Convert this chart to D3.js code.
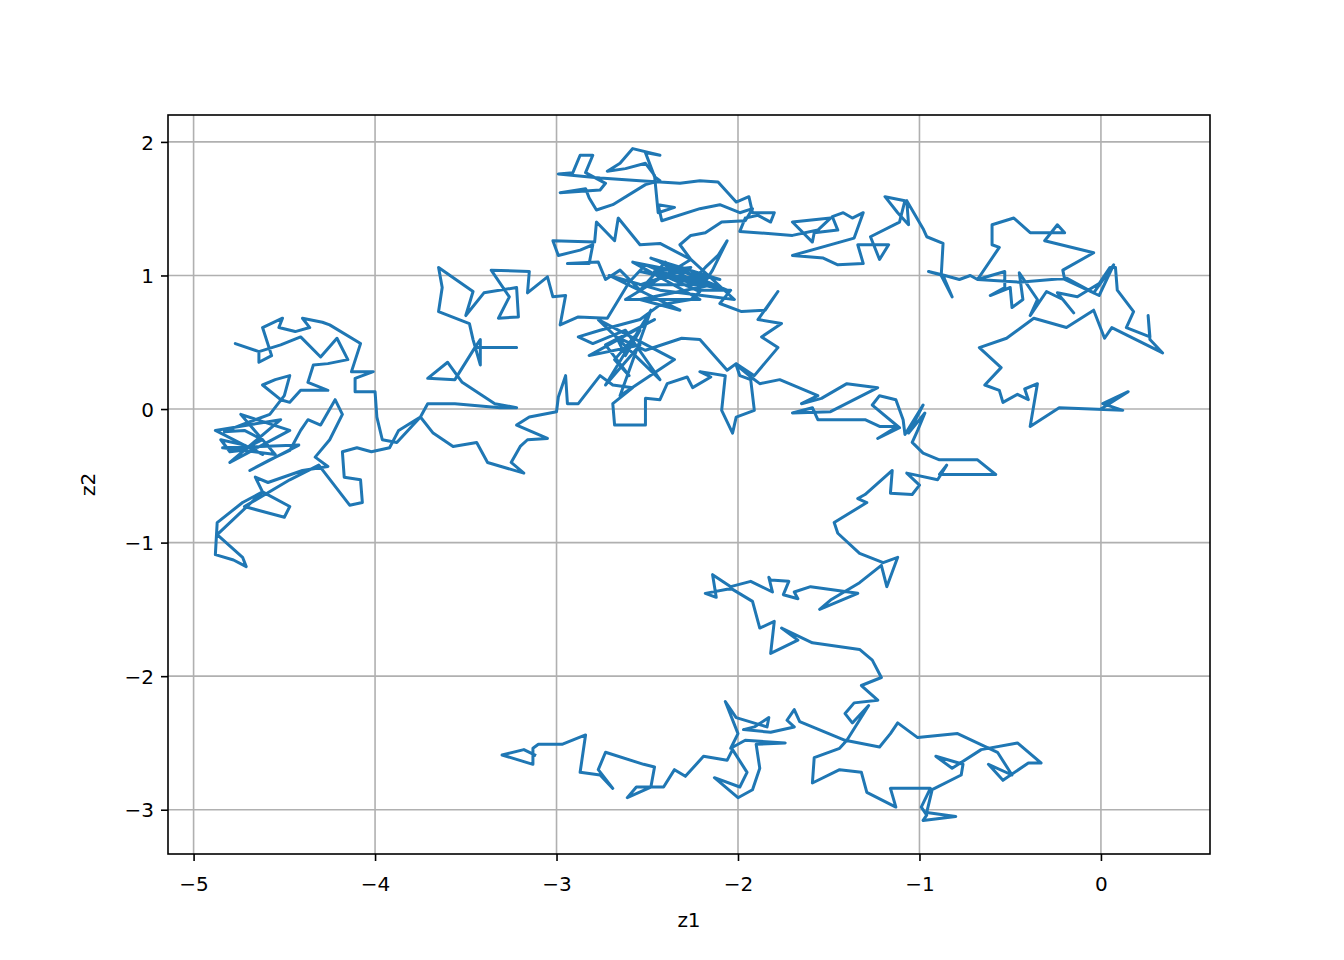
<!DOCTYPE html>
<html>
<head>
<meta charset="utf-8">
<script src="https://cdn.jsdelivr.net/npm/d3@7"></script>
<style>
  body { margin: 0; background: #fff; }
  svg text { font-family: "DejaVu Sans", sans-serif; font-size: 20px; fill: #000; }
</style>
</head>
<body>
<div id="chart"></div>
<script>
// random walk path in order (start at the origin)
var z1 = [
  0.00, 0.15, 0.01, 0.12, -0.23, -0.39, -0.35, -0.42, -0.40, -0.46, -0.54, -0.56, -0.64, -0.55, -0.67, -0.52,
  -0.37, -0.19, -0.04, 0.02, 0.06, 0.34, 0.27, 0.26, 0.27, 0.14, 0.18, 0.09, 0.08, 0.05, -0.01, -0.13,
  -0.24, -0.15, -0.21, -0.30, -0.39, -0.35, -0.45, -0.43, -0.49, -0.50, -0.61, -0.53, -0.53, -0.68, -0.56, -0.60,
  -0.60, -0.48, -0.39, -0.24, -0.20, -0.24, -0.31, -0.04, -0.21, -0.20, -0.01, 0.07, -0.04, -0.19, -0.45, -0.68,
  -0.72, -0.78, -0.86, -0.95, -0.87, -0.82, -0.88, -0.87, -0.96, -0.98,
  -1.07, -1.06, -1.12, -1.19, -1.08, -1.11, -1.27, -1.22, -1.17, -1.34, -1.31, -1.45, -1.53, -1.70, -1.36, -1.31,
  -1.37, -1.42, -1.48, -1.45, -1.58, -1.59, -1.70, -1.49, -1.56, -1.70, -1.99, -1.96, -1.89, -1.82, -1.80, -1.92,
  -1.94, -2.01,
  -2.11, -2.21, -2.32, -2.43, -2.54, -2.76, -2.99, -2.91, -2.87, -2.80, -2.84, -2.73, -2.76, -2.98, -2.84, -2.82,
  -2.78, -2.69, -2.51, -2.43, -2.46, -2.51, -2.43, -2.58, -2.65, -2.72, -2.62, -2.51, -2.46, -2.44, -2.35, -2.44,
  -2.42, -2.21, -2.10, -1.99, -1.92, -1.96, -2.09, -2.18, -2.26, -2.32, -2.26, -2.43, -2.54, -2.66, -2.68, -2.78,
  -2.79, -3.02, -2.99, -2.87, -2.80, -2.82, -2.94, -2.77, -2.73, -2.65, -2.54, -2.40, -2.26, -2.18, -2.11, -2.06,
  -2.14, -2.21, -2.04, -2.10, -1.98, -1.85, -1.78, -1.89, -1.76, -1.87, -1.78, -1.91, -2.01, -2.06, -2.21, -2.31,
  -2.51, -2.67, -2.62, -2.54, -2.68, -2.60, -2.73,
  -2.46, -2.82, -2.54, -2.73, -2.48, -2.65, -2.35, -2.77, -2.43, -2.62,
  -2.80, -2.88, -2.76, -2.54, -2.43, -2.26, -2.21, -2.46, -2.26,
  -2.54, -2.21, -2.43, -2.18,
  -2.54, -2.06, -2.48, -2.10, -2.58, -2.21, -2.62, -2.26, -2.02, -2.43, -2.71, -2.32, -2.54, -2.14,
  -2.37, -2.51, -2.60, -2.72, -2.88, -2.98, -2.95, -3.02,
  -3.05, -3.16, -3.15, -3.36, -3.26, -3.32, -3.21, -3.22, -3.40, -3.50, -3.46, -3.65, -3.63, -3.65, -3.48, -3.46,
  -3.42, -3.42, -3.45, -3.22, -3.45, -3.56, -3.71, -3.60, -3.52, -3.34, -3.22, -3.31, -3.56, -3.71, -3.75, -3.88,
  -3.96, -3.99,
  -4.00, -4.11, -4.11, -4.01, -4.13, -4.08, -4.25, -4.29, -4.40, -4.36, -4.44, -4.53, -4.51, -4.62, -4.57, -4.64,
  -4.64, -4.77, -4.64, -4.52, -4.41, -4.30, -4.21, -4.15, -4.26, -4.34, -4.37, -4.26, -4.41, -4.47, -4.52, -4.62,
  -4.55, -4.47, -4.50, -4.58, -4.66, -4.74, -4.83, -4.72, -4.62, -4.74, -4.80, -4.85, -4.72, -4.62,
  -4.88, -4.52, -4.80, -4.47, -4.74, -4.55, -4.84, -4.42,
  -4.69, -4.58,
  -4.47, -4.41, -4.37, -4.30, -4.22, -4.18, -4.25, -4.33, -4.26, -4.40, -4.59, -4.66, -4.62, -4.73, -4.87, -4.88,
  -4.78, -4.71, -4.73, -4.87, -4.62, -4.47, -4.50, -4.72, -4.47, -4.31, -4.14, -4.07, -4.08, -4.17, -4.18, -4.10,
  -4.02, -3.92, -3.87, -3.75, -3.68, -3.57, -3.44, -3.38, -3.18, -3.25, -3.20, -3.16, -3.05, -3.22, -3.15, -3.00,
  -2.99, -2.95, -2.94, -2.88, -2.76, -2.69, -2.58, -2.69, -2.68, -2.51, -2.51, -2.43, -2.39, -2.28, -2.25, -2.15,
  -2.21, -2.07, -2.09, -2.03, -2.01, -1.91, -1.93, -1.99, -2.01, -1.92, -1.88,
  -1.77, -1.56, -1.65, -1.54, -1.40, -1.23, -1.49, -1.70, -1.59, -1.56, -1.30, -1.22, -1.12, -1.23, -1.11, -1.26,
  -1.22, -1.13, -1.09, -1.08, -0.98, -1.06, -0.97, -1.01, -1.04, -0.98, -0.89, -0.68, -0.58, -0.89, -0.85, -0.90,
  -1.07, -1.00, -1.04, -1.16, -1.15, -1.30, -1.34, -1.29, -1.47, -1.45, -1.33, -1.20, -1.12, -1.18, -1.21, -1.33,
  -1.49, -1.55, -1.34, -1.60, -1.69, -1.67, -1.75, -1.72, -1.82, -1.83, -1.81, -1.93, -2.04, -2.14, -2.12, -2.18,
  -2.06, -2.03, -1.92, -1.88, -1.80, -1.82, -1.67, -1.76, -1.59, -1.33, -1.26, -1.21, -1.32, -1.23, -1.36, -1.41,
  -1.37, -1.28, -1.40, -1.44, -1.58, -1.59, -1.44, -1.32, -1.29, -1.13, -1.16, -0.94, -0.99, -0.96, -0.98, -0.80,
  -0.96, -0.93, -0.77, -0.76, -0.91, -0.82, -0.66, -0.46, -0.33, -0.40, -0.54, -0.62, -0.49, -0.57, -0.79, -1.01,
  -1.12, -1.16, -1.22, -1.41, -1.66, -1.69, -1.73, -1.69, -1.82, -1.97, -1.91, -1.83, -1.84, -2.01, -2.07, -2.00,
  -2.04, -1.96, -1.74, -1.90, -1.88, -1.92, -2.00, -2.13, -1.99, -1.95, -2.03, -2.06, -2.19, -2.29, -2.35, -2.41,
  -2.56, -2.61, -2.48, -2.46, -2.52, -2.73, -2.77, -2.69, -2.76, -2.87, -2.84, -2.97, -3.10, -3.13, -3.13, -3.30,
  -3.18, -3.12
];
var z2 = [
  0.00, 0.13, 0.04, -0.01, 0.01, -0.13, 0.19, 0.15, 0.07, 0.11, 0.05, 0.14, 0.18, 0.31, 0.46, 0.53,
  0.68, 0.61, 0.74, 0.53, 0.61, 0.42, 0.52, 0.70, 0.54, 0.61, 0.73, 0.89, 1.06, 1.06, 0.94, 0.84,
  0.87, 0.72, 0.82, 0.88, 0.70, 0.82, 1.02, 0.82, 0.76, 0.91, 0.85, 0.91, 1.03, 0.97, 1.21, 1.23,
  1.38, 1.43, 1.32, 1.32, 1.32, 1.38, 1.26, 1.17, 1.04, 0.97, 0.85, 1.08, 0.87, 0.98, 0.95, 0.97,
  1.00, 0.97, 1.00, 1.03, 1.00, 0.84, 1.00, 1.24, 1.29, 1.35,
  1.56, 1.38, 1.47, 1.59, 1.56, 1.40, 1.29, 1.12, 1.23, 1.23, 1.09, 1.08, 1.13, 1.15, 1.28, 1.47,
  1.43, 1.47, 1.44, 1.34, 1.32, 1.25, 1.40, 1.43, 1.34, 1.30, 1.33, 1.43, 1.45, 1.40, 1.47, 1.47,
  1.59, 1.55,
  1.70, 1.71, 1.69, 1.70, 1.71, 1.73, 1.76, 1.77, 1.90, 1.90, 1.77, 1.69, 1.64, 1.62, 1.65, 1.58,
  1.49, 1.53, 1.68, 1.71, 1.74, 1.92, 1.90, 1.95, 1.84, 1.78, 1.80, 1.84, 1.75, 1.47, 1.51, 1.53,
  1.41, 1.50, 1.53, 1.47, 1.50, 1.41, 1.40, 1.32, 1.30, 1.23, 1.12, 1.24, 1.23, 1.43, 1.26, 1.40,
  1.25, 1.26, 1.15, 1.19, 1.23, 1.09, 1.09, 1.10, 0.97, 1.04, 0.89, 1.10, 0.95, 1.06, 1.15, 1.26,
  1.04, 0.89, 0.89, 0.79, 0.73, 0.74, 0.88, 0.67, 0.64, 0.54, 0.46, 0.25, 0.34, 0.29, 0.52, 0.53,
  0.44, 0.54, 0.40, 0.59, 0.37, 0.25, 0.48,
  0.67, 0.40, 0.48, 0.18, 0.74, 0.10, 0.37, 0.67, 0.22, 0.59,
  0.49, 0.54, 0.59, 0.67, 0.78, 0.82, 0.88, 1.03, 1.06,
  0.93, 0.93, 1.10, 0.97,
  1.03, 0.89, 1.13, 0.97, 1.10, 0.82, 0.82, 1.12, 0.82, 0.89, 1.00, 0.74, 0.82, 0.93,
  1.00, 1.08, 0.95, 0.68, 0.69, 0.63, 0.85, 0.84,
  0.99, 0.87, 1.03, 1.04, 0.84, 0.68, 0.69, 0.91, 0.87, 0.70, 0.88, 1.06, 0.91, 0.73, 0.64, 0.52,
  0.33, 0.52, 0.46, 0.46, 0.46, 0.22, 0.23, 0.35, 0.20, 0.04, 0.01, 0.01, 0.04, 0.04, -0.06, -0.25,
  -0.23, -0.06,
  0.13, 0.13, 0.23, 0.28, 0.28, 0.49, 0.63, 0.65, 0.68, 0.61, 0.58, 0.61, 0.68, 0.61, 0.40, 0.35,
  0.43, 0.49, 0.43, 0.48, 0.54, 0.39, 0.53, 0.37, 0.34, 0.33, 0.20, 0.14, 0.14, 0.05, 0.07, 0.18,
  0.22, 0.25, 0.10, -0.04, -0.08, -0.12, -0.17, -0.16, -0.23, -0.31, -0.32, -0.23, -0.27, -0.34,
  -0.16, -0.08, -0.40, -0.16, -0.04, -0.34, -0.29, -0.27,
  -0.46, -0.38,
  -0.31, -0.16, -0.08, -0.12, 0.07, -0.04, -0.23, -0.36, -0.43, -0.46, -0.55, -0.51, -0.62, -0.70, -0.85, -1.09,
  -1.13, -1.18, -1.11, -0.94, -0.62, -0.73, -0.81, -0.73, -0.53, -0.42, -0.72, -0.70, -0.53, -0.51, -0.32, -0.29,
  -0.32, -0.29, -0.16, -0.06, -0.18, -0.28, -0.25, -0.40, -0.48, -0.40, -0.28, -0.23, -0.22, -0.12, -0.06, -0.02,
  0.09, 0.25, 0.04, 0.04, 0.25, 0.18, 0.16, 0.04, -0.12, -0.12, 0.08, 0.07, 0.19, 0.24, 0.16, 0.24,
  0.28, 0.25, -0.01, -0.18, -0.06, -0.01, 0.22, 0.25, 0.33, 0.23, 0.19,
  0.22, 0.10, 0.04, 0.08, 0.19, 0.16, -0.02, -0.03, 0.01, -0.08, -0.08, -0.13, -0.13, -0.22, -0.14, 0.03,
  0.10, 0.07, -0.08, -0.19, 0.03, -0.18, -0.03, -0.16, -0.25, -0.33, -0.38, -0.38, -0.49, -0.49, -0.42, -0.53,
  -0.48, -0.57, -0.64, -0.63, -0.46, -0.64, -0.67, -0.70, -0.85, -0.93, -1.08, -1.15, -1.11, -1.33, -1.17, -1.30,
  -1.43, -1.50, -1.38, -1.33, -1.37, -1.42, -1.39, -1.29, -1.28, -1.26, -1.37, -1.29, -1.33, -1.24, -1.41, -1.38,
  -1.35, -1.35, -1.44, -1.64, -1.59, -1.83, -1.73, -1.64, -1.75, -1.80, -1.88, -2.01, -2.07, -2.18, -2.20, -2.28,
  -2.35, -2.22, -2.48, -2.54, -2.61, -2.80, -2.70, -2.72, -2.87, -2.98, -2.84, -2.84, -2.98, -3.04, -3.08, -3.05,
  -3.02, -2.85, -2.74, -2.66, -2.60, -2.69, -2.55, -2.50, -2.65, -2.65, -2.78, -2.66, -2.74, -2.57, -2.43, -2.46,
  -2.35, -2.43, -2.53, -2.48, -2.34, -2.25, -2.33, -2.38, -2.42, -2.40, -2.38, -2.31, -2.38, -2.31, -2.19, -2.43,
  -2.54, -2.48, -2.50, -2.51, -2.69, -2.85, -2.91, -2.76, -2.83, -2.72, -2.55, -2.63, -2.60, -2.75, -2.70, -2.83,
  -2.83, -2.91, -2.83, -2.68, -2.66, -2.57, -2.70, -2.84, -2.74, -2.72, -2.44, -2.51, -2.51, -2.54, -2.66, -2.59,
  -2.55, -2.59
];
var xTicks = [-5, -4, -3, -2, -1, 0];
var yTicks = [-3, -2, -1, 0, 1, 2];

var walk = z1.map(function(d, i) { return {z1: d, z2: z2[i]}; });

// axes box like matplotlib's default subplot
var W = 1344, H = 960;
var margin = {top: 115, right: 134, bottom: 106, left: 168},
    width = W - margin.left - margin.right,
    height = H - margin.top - margin.bottom;

// 5% padding on both sides of the data range
function padded(ext) {
  var p = (ext[1] - ext[0]) * 0.05;
  return [ext[0] - p, ext[1] + p];
}

var x = d3.scaleLinear()
    .domain(padded(d3.extent(walk, function(d) { return d.z1; })))
    .range([0, width]);
var y = d3.scaleLinear()
    .domain(padded(d3.extent(walk, function(d) { return d.z2; })))
    .range([height, 0]);

var fmt = function(d) { return d < 0 ? "\u2212" + Math.abs(d) : String(d); };

var svg = d3.select("#chart").append("svg")
    .attr("width", W)
    .attr("height", H)
  .append("g")
    .attr("transform", "translate(" + margin.left + "," + margin.top + ")");

// grid
svg.append("g")
    .selectAll("line")
    .data(xTicks)
    .enter().append("line")
    .attr("x1", function(d) { return x(d); })
    .attr("x2", function(d) { return x(d); })
    .attr("y1", 0)
    .attr("y2", height)
    .attr("stroke", "#b0b0b0")
    .attr("stroke-width", 1.6);
svg.append("g")
    .selectAll("line")
    .data(yTicks)
    .enter().append("line")
    .attr("x1", 0)
    .attr("x2", width)
    .attr("y1", function(d) { return y(d); })
    .attr("y2", function(d) { return y(d); })
    .attr("stroke", "#b0b0b0")
    .attr("stroke-width", 1.6);

// the walk
var line = d3.line()
    .x(function(d) { return x(d.z1); })
    .y(function(d) { return y(d.z2); });

svg.append("path")
    .datum(walk)
    .attr("fill", "none")
    .attr("stroke", "#1f77b4")
    .attr("stroke-width", 3)
    .attr("stroke-linejoin", "round")
    .attr("stroke-linecap", "square")
    .attr("d", line);

// axes
var xAxis = svg.append("g")
    .attr("transform", "translate(0," + height + ")")
    .call(d3.axisBottom(x).tickValues(xTicks).tickFormat(fmt).tickSizeInner(7).tickSizeOuter(0).tickPadding(7));
var yAxis = svg.append("g")
    .call(d3.axisLeft(y).tickValues(yTicks).tickFormat(fmt).tickSizeInner(7).tickSizeOuter(0).tickPadding(7));

[xAxis, yAxis].forEach(function(a) {
  a.select(".domain").remove();
  a.selectAll(".tick line").attr("stroke", "#000").attr("stroke-width", 1.6);
  a.selectAll("text").attr("font-size", null).attr("font-family", null).attr("fill", "#000");
});
xAxis.selectAll("text").attr("dy", null).attr("y", 37);
yAxis.selectAll("text").attr("dy", "0.36em");

// frame
svg.append("rect")
    .attr("width", width)
    .attr("height", height)
    .attr("fill", "none")
    .attr("stroke", "#000")
    .attr("stroke-width", 1.6);

// axis labels
svg.append("text")
    .attr("x", width / 2)
    .attr("y", height + 73)
    .attr("text-anchor", "middle")
    .text("z1");
svg.append("text")
    .attr("transform", "translate(" + (-73) + "," + (height / 2) + ") rotate(-90)")
    .attr("text-anchor", "middle")
    .text("z2");
</script>
</body>
</html>
